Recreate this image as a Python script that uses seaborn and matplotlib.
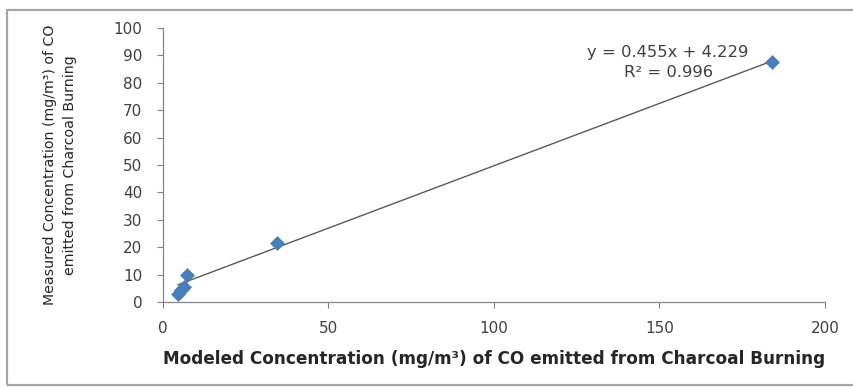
import matplotlib
matplotlib.use("Agg")
import matplotlib.pyplot as plt
import seaborn as sns
import numpy as np
import pandas as pd
from matplotlib.patches import Rectangle

# Modeled vs measured CO concentrations (mg/m³)
modeled = [4.5, 5.5, 6.2, 7.2, 34.5, 184.0]
measured = [3.0, 4.5, 5.5, 9.8, 21.5, 87.5]

# Linear trendline coefficients
slope = 0.455
intercept = 4.229
r_squared = 0.996

x_ticks = [0, 50, 100, 150, 200]
y_ticks = [0, 10, 20, 30, 40, 50, 60, 70, 80, 90, 100]

df = pd.DataFrame({"modeled": modeled, "measured": measured})

sns.set_theme(style="white")
plt.rcParams["font.family"] = ["DejaVu Sans"]

fig = plt.figure(figsize=(8.54, 3.87), dpi=100)
ax = fig.add_axes([163 / 854, 1 - 302 / 387, (825 - 163) / 854, (302 - 28) / 387])

# Outer chart border
fig.patches.append(Rectangle((7 / 854, 1 - 385 / 387), 860 / 854, 375 / 387,
                             transform=fig.transFigure, fill=False,
                             edgecolor="#a6a6a6", linewidth=1.6))

# Trendline over the data range
xs = np.array([min(modeled), max(modeled)])
ax.plot(xs, slope * xs + intercept, color="#595959", linewidth=1.0, zorder=2)

sns.scatterplot(data=df, x="modeled", y="measured", ax=ax, marker="D",
                s=50, color="#4a7ebb", edgecolor="#4a7ebb", linewidth=0.5,
                zorder=3, legend=False)

ax.set_xlim(0, 200)
ax.set_ylim(0, 100)
ax.set_xticks(x_ticks)
ax.set_yticks(y_ticks)
ax.tick_params(axis="both", colors="#808080", labelcolor="#404040",
               labelsize=11, length=4, width=0.8, direction="out",
               bottom=True, left=True)
ax.tick_params(axis="y", pad=11)
ax.tick_params(axis="x", pad=10)

for side in ["top", "right"]:
    ax.spines[side].set_visible(False)
for side in ["left", "bottom"]:
    ax.spines[side].set_color("#868686")
    ax.spines[side].set_linewidth(0.9)

ax.set_xlabel("Modeled Concentration (mg/m³) of CO emitted from Charcoal Burning",
              fontsize=12.2, fontweight="bold", color="#262626", labelpad=10)
ax.set_ylabel("Measured Concentration (mg/m³) of CO\nemitted from Charcoal Burning",
              fontsize=10.2, color="#262626", labelpad=26, linespacing=1.6)

ax.text(152.6, 90.9, f"y = {slope}x + {intercept}", fontsize=11.8,
        color="#404040", ha="center", va="center")
ax.text(152.6, 83.6, f"R² = {r_squared}", fontsize=11.8,
        color="#404040", ha="center", va="center")

fig.savefig("out.png", dpi=100)
